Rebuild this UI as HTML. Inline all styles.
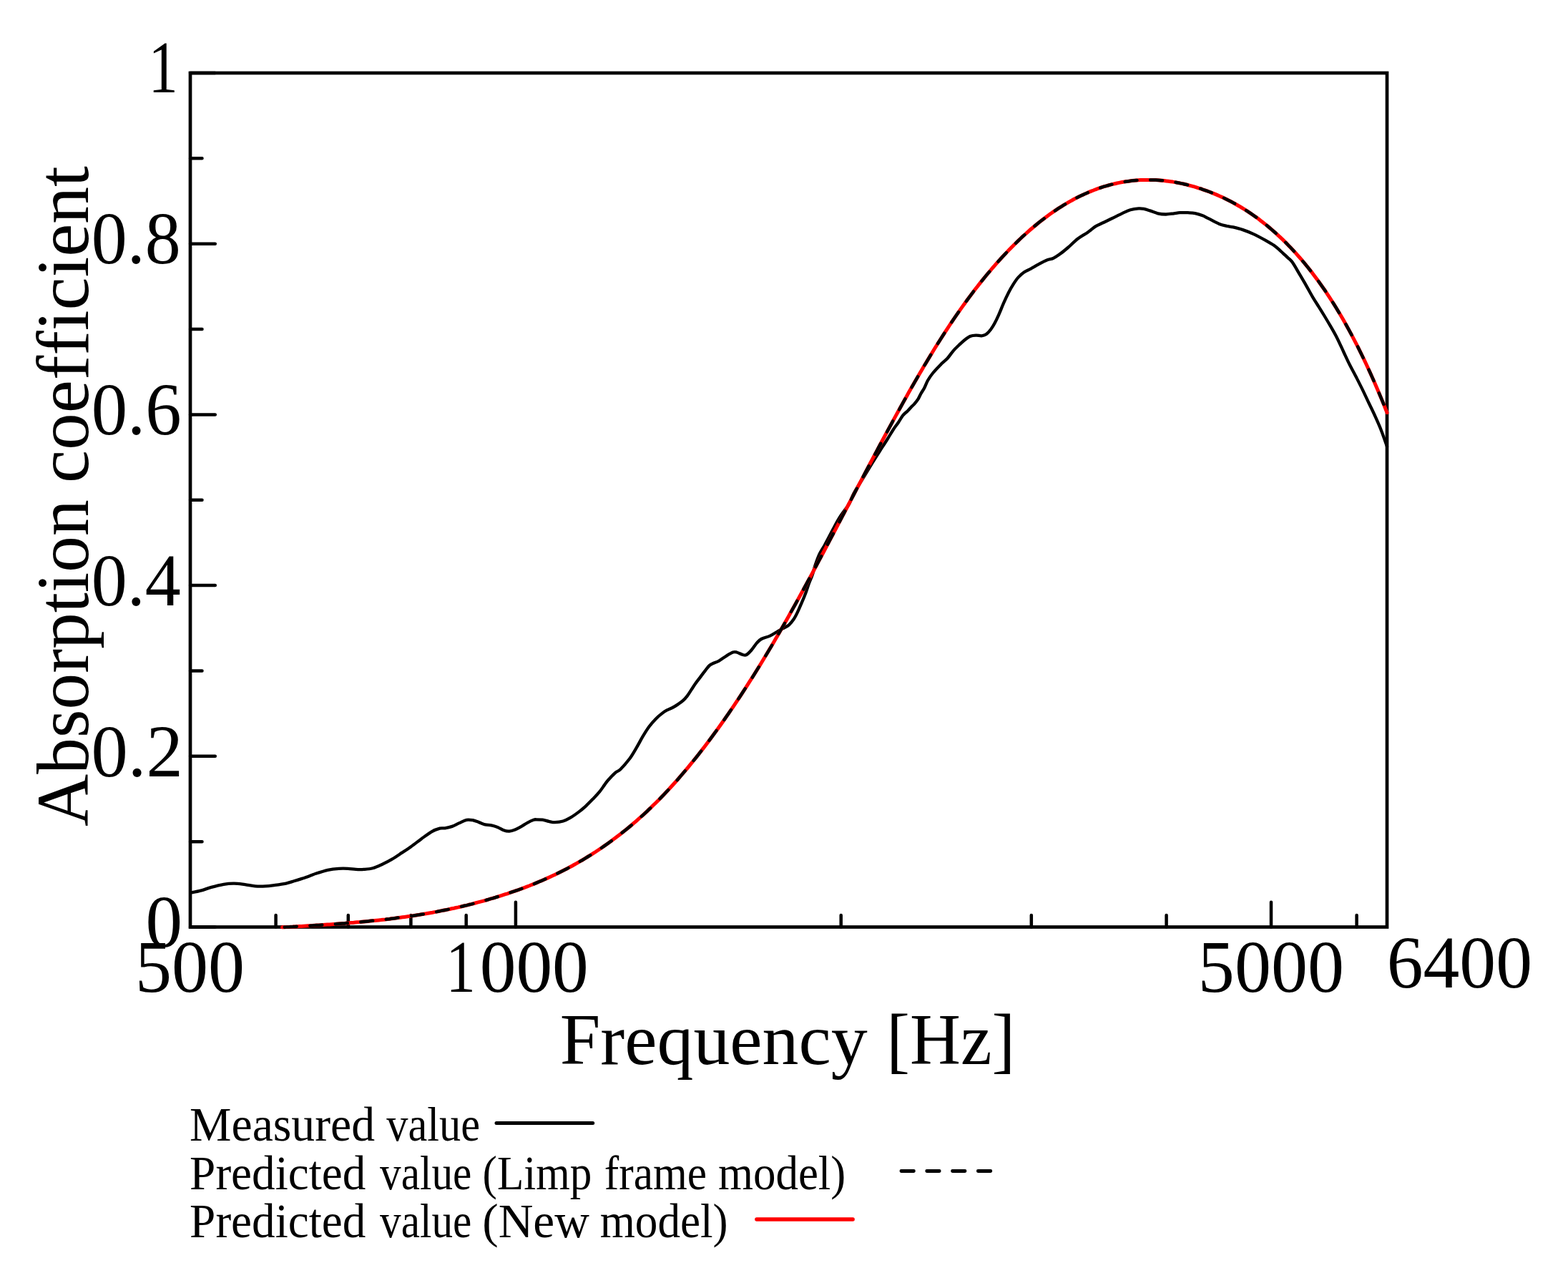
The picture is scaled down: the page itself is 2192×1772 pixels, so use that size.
<!DOCTYPE html>
<html><head><meta charset="utf-8"><style>
html,body{margin:0;padding:0;background:#fff;}
svg{display:block;}
text{font-family:"Liberation Serif","Times New Roman",serif;fill:#000;font-kerning:none;font-variant-ligatures:none;}
</style></head><body>
<svg width="2192" height="1772" viewBox="0 0 2192 1772">
<rect width="2192" height="1772" fill="#fff"/>
<g fill="none" stroke-linejoin="round" stroke-linecap="round">
<path d="M266.0,1295.5 h34.8 M266.0,1176.2 h16.5 M266.0,1056.8 h34.8 M266.0,937.5 h16.5 M266.0,818.1 h34.8 M266.0,698.8 h16.5 M266.0,579.4 h34.8 M266.0,460.1 h16.5 M266.0,340.7 h34.8 M266.0,221.3 h16.5 M266.0,102.0 h34.8 M385.6,1295.5 v-16.5 M486.8,1295.5 v-16.5 M574.4,1295.5 v-16.5 M651.7,1295.5 v-16.5 M1175.7,1295.5 v-16.5 M1441.8,1295.5 v-16.5 M1630.6,1295.5 v-16.5 M1896.6,1295.5 v-16.5 M720.9,1295.5 v-34.8 M1777.0,1295.5 v-34.8" stroke="#000" stroke-width="4.5"/>
<rect x="266" y="102" width="1673" height="1193.5" stroke="#000" stroke-width="4.7" stroke-linecap="butt" stroke-linejoin="miter"/>
<path d="M266.5,1247.7 C268.9,1247.2 275.8,1246.0 280.6,1244.7 C285.4,1243.4 290.1,1241.4 295.5,1239.9 C300.9,1238.4 307.4,1236.7 312.7,1235.8 C318.0,1234.9 322.6,1234.5 327.5,1234.6 C332.4,1234.6 337.5,1235.5 342.4,1236.1 C347.2,1236.7 351.8,1238.0 356.6,1238.4 C361.5,1238.8 366.8,1238.7 371.5,1238.4 C376.2,1238.2 380.2,1237.5 384.9,1236.9 C389.6,1236.3 395.4,1235.5 399.8,1234.6 C404.2,1233.7 407.3,1232.4 411.0,1231.3 C414.7,1230.2 419.2,1228.8 422.0,1227.9 C424.8,1227.0 424.3,1227.3 427.6,1226.1 C430.9,1224.9 436.5,1222.5 441.6,1220.8 C446.7,1219.1 453.0,1217.0 458.3,1215.8 C463.6,1214.6 469.0,1214.1 473.7,1213.8 C478.4,1213.5 482.4,1213.6 486.3,1213.8 C490.2,1214.0 493.7,1214.7 497.4,1214.9 C501.1,1215.1 504.6,1215.2 508.6,1214.9 C512.6,1214.6 516.8,1214.4 521.2,1213.2 C525.6,1212.0 530.7,1209.5 535.1,1207.5 C539.5,1205.5 543.3,1203.5 547.7,1200.9 C552.1,1198.3 557.0,1194.9 561.5,1191.9 C566.0,1189.0 569.9,1186.5 574.5,1183.2 C579.1,1180.0 584.1,1175.9 588.9,1172.4 C593.7,1168.9 599.0,1164.8 603.3,1162.3 C607.6,1159.8 611.7,1158.5 614.8,1157.7 C617.9,1156.9 619.1,1157.8 622.0,1157.3 C624.9,1156.8 628.7,1156.1 632.1,1154.9 C635.5,1153.7 638.8,1151.6 642.2,1150.1 C645.6,1148.6 649.2,1146.4 652.3,1145.8 C655.4,1145.2 658.0,1145.7 660.9,1146.2 C663.8,1146.8 666.6,1148.1 669.5,1149.1 C672.4,1150.1 675.3,1151.6 678.2,1152.3 C681.1,1153.0 683.9,1152.8 686.8,1153.4 C689.7,1154.0 692.6,1154.8 695.5,1155.9 C698.4,1157.0 701.4,1159.2 704.1,1160.2 C706.9,1161.2 709.4,1161.7 712.0,1161.6 C714.6,1161.5 717.2,1160.6 720.0,1159.5 C722.8,1158.4 725.7,1156.7 728.6,1155.1 C731.5,1153.5 734.3,1151.3 737.2,1149.8 C740.1,1148.2 743.8,1146.5 745.9,1145.8 C748.0,1145.0 747.9,1145.3 750.0,1145.3 C752.1,1145.3 755.7,1145.3 758.6,1145.7 C761.5,1146.1 764.4,1147.3 767.3,1147.9 C770.2,1148.5 772.6,1149.3 775.9,1149.2 C779.2,1149.1 783.6,1148.6 787.2,1147.5 C790.8,1146.4 793.9,1144.8 797.5,1142.7 C801.1,1140.6 805.2,1137.6 808.8,1134.9 C812.4,1132.2 815.6,1129.5 819.1,1126.3 C822.6,1123.1 826.3,1119.2 829.5,1115.9 C832.7,1112.6 835.6,1109.6 838.2,1106.4 C840.8,1103.2 843.1,1099.6 845.1,1096.9 C847.1,1094.2 847.8,1092.8 850.3,1090.0 C852.8,1087.2 857.4,1082.3 860.2,1079.8 C863.0,1077.3 863.9,1078.4 867.2,1075.2 C870.5,1072.0 876.2,1065.5 880.0,1060.5 C883.8,1055.5 886.7,1050.1 889.8,1044.9 C892.9,1039.7 895.7,1034.1 898.6,1029.2 C901.5,1024.3 904.3,1019.7 907.4,1015.5 C910.5,1011.3 914.3,1007.2 917.2,1004.2 C920.1,1001.2 922.5,999.3 925.0,997.4 C927.5,995.5 929.4,994.1 931.9,992.7 C934.4,991.3 937.3,990.4 940.0,989.0 C942.7,987.6 945.5,985.8 948.0,984.1 C950.5,982.4 952.9,980.8 955.0,978.9 C957.1,977.0 958.8,975.1 960.7,972.6 C962.6,970.1 964.6,966.8 966.5,963.9 C968.4,961.0 970.1,958.3 972.2,955.3 C974.3,952.3 976.8,949.2 979.1,946.1 C981.4,943.0 984.0,939.6 986.1,936.9 C988.2,934.2 989.8,931.7 991.8,930.0 C993.8,928.3 996.0,927.6 998.2,926.5 C1000.4,925.4 1002.0,925.3 1005.0,923.6 C1008.0,921.9 1012.6,918.3 1015.9,916.3 C1019.2,914.3 1022.3,912.3 1024.6,911.5 C1026.9,910.7 1027.5,910.9 1029.8,911.5 C1032.1,912.1 1036.1,914.4 1038.4,915.0 C1040.7,915.6 1041.6,916.1 1043.6,915.0 C1045.6,913.9 1048.0,911.3 1050.5,908.5 C1053.0,905.7 1056.0,900.8 1058.3,898.2 C1060.6,895.6 1061.3,894.6 1064.3,893.0 C1067.3,891.4 1072.5,890.4 1076.4,888.6 C1080.3,886.8 1084.6,883.7 1087.6,882.0 C1090.6,880.3 1092.0,879.7 1094.6,878.2 C1097.1,876.8 1100.4,875.5 1102.9,873.3 C1105.4,871.1 1107.7,868.1 1109.8,865.0 C1111.9,861.9 1113.5,858.5 1115.3,854.7 C1117.1,850.9 1118.9,846.6 1120.8,842.2 C1122.7,837.8 1124.7,833.0 1126.4,828.4 C1128.1,823.8 1129.6,818.8 1131.2,814.6 C1132.8,810.4 1134.4,807.1 1135.8,803.0 C1137.2,798.9 1138.0,794.8 1139.6,790.0 C1141.2,785.2 1143.3,779.1 1145.5,774.4 C1147.7,769.6 1149.9,767.2 1153.0,761.5 C1156.1,755.8 1160.9,746.5 1164.2,740.3 C1167.5,734.1 1170.2,728.9 1173.1,724.2 C1175.9,719.5 1178.9,715.7 1181.3,712.3 C1183.7,708.9 1185.1,707.9 1187.2,704.0 C1189.3,700.1 1190.7,694.8 1193.9,688.8 C1197.1,682.8 1202.5,674.9 1206.6,668.2 C1210.7,661.5 1214.5,655.0 1218.4,648.6 C1222.3,642.2 1226.3,635.9 1230.1,630.0 C1233.9,624.1 1237.9,618.0 1241.0,613.0 C1244.1,608.0 1246.5,603.8 1249.0,600.0 C1251.4,596.2 1253.6,593.8 1255.8,590.5 C1258.0,587.2 1260.1,583.1 1262.3,580.4 C1264.5,577.7 1266.7,576.4 1268.7,574.4 C1270.7,572.4 1272.8,570.0 1274.4,568.3 C1276.0,566.6 1276.9,566.0 1278.4,564.3 C1279.9,562.6 1281.7,560.6 1283.2,558.2 C1284.7,555.9 1285.8,552.9 1287.3,550.2 C1288.8,547.5 1290.7,545.0 1292.3,541.9 C1293.9,538.8 1295.1,535.0 1297.1,531.5 C1299.1,528.0 1301.2,524.9 1304.4,521.0 C1307.6,517.1 1313.2,511.5 1316.5,508.1 C1319.8,504.7 1321.8,503.8 1324.5,500.8 C1327.2,497.8 1329.9,493.4 1332.6,490.3 C1335.3,487.2 1337.9,484.9 1340.6,482.3 C1343.3,479.8 1346.0,477.1 1348.7,475.0 C1351.4,472.9 1354.1,470.9 1356.8,469.8 C1359.5,468.7 1362.2,468.7 1364.8,468.6 C1367.3,468.5 1369.8,469.5 1372.1,469.3 C1374.4,469.1 1376.3,468.8 1378.5,467.3 C1380.7,465.8 1383.0,463.1 1385.0,460.5 C1387.0,457.9 1388.8,455.0 1390.6,451.6 C1392.4,448.2 1394.0,444.8 1396.1,440.1 C1398.2,435.5 1400.7,428.9 1403.0,423.7 C1405.3,418.5 1407.6,413.5 1409.9,409.0 C1412.2,404.5 1414.5,400.5 1416.8,396.9 C1419.1,393.3 1421.2,390.1 1423.7,387.4 C1426.2,384.7 1428.6,382.5 1431.5,380.5 C1434.4,378.5 1437.7,377.4 1441.0,375.6 C1444.3,373.8 1447.7,371.7 1451.4,369.7 C1455.1,367.7 1459.9,364.8 1463.4,363.4 C1466.9,361.9 1469.5,362.2 1472.3,361.0 C1475.1,359.8 1476.9,358.5 1480.3,356.1 C1483.7,353.7 1488.0,350.3 1492.4,346.5 C1496.8,342.7 1502.2,337.1 1506.9,333.5 C1511.6,329.9 1516.6,327.5 1520.6,324.7 C1524.6,321.9 1527.7,318.8 1531.1,316.6 C1534.5,314.5 1536.9,313.7 1540.8,311.8 C1544.7,309.9 1549.8,307.6 1554.5,305.3 C1559.2,303.0 1564.7,300.1 1569.0,298.1 C1573.3,296.1 1576.5,294.3 1580.3,293.2 C1584.1,292.1 1588.7,291.6 1591.8,291.4 C1594.9,291.2 1596.5,291.4 1599.1,291.9 C1601.7,292.4 1604.2,293.3 1607.5,294.4 C1610.8,295.5 1615.0,297.4 1618.7,298.3 C1622.4,299.2 1626.1,299.5 1629.8,299.5 C1633.5,299.5 1637.7,298.7 1641.0,298.3 C1644.3,297.9 1646.1,297.4 1649.4,297.2 C1652.7,297.0 1657.1,297.0 1660.6,297.2 C1664.1,297.4 1667.2,297.4 1670.6,298.1 C1674.0,298.8 1678.0,300.1 1681.2,301.3 C1684.4,302.5 1685.6,303.5 1689.5,305.4 C1693.4,307.3 1700.2,311.1 1704.4,312.9 C1708.6,314.6 1711.7,315.1 1714.9,315.9 C1718.2,316.6 1720.2,316.5 1723.9,317.4 C1727.7,318.3 1732.7,319.5 1737.4,321.1 C1742.2,322.7 1747.0,324.6 1752.4,327.1 C1757.8,329.6 1764.9,333.5 1769.6,336.1 C1774.3,338.7 1777.4,340.4 1780.8,342.8 C1784.2,345.2 1786.5,347.4 1789.8,350.3 C1793.0,353.2 1797.4,357.4 1800.3,360.1 C1803.2,362.9 1804.1,362.8 1806.9,366.8 C1809.7,370.8 1814.1,378.8 1817.3,384.1 C1820.5,389.4 1823.0,393.8 1825.9,398.8 C1828.8,403.8 1831.7,409.4 1834.6,414.3 C1837.5,419.2 1840.3,423.5 1843.2,428.1 C1846.1,432.7 1848.9,437.2 1851.8,442.0 C1854.7,446.8 1857.6,451.7 1860.5,456.7 C1863.4,461.7 1866.1,466.3 1869.1,472.2 C1872.1,478.1 1875.5,485.8 1878.4,492.0 C1881.3,498.2 1883.9,504.0 1886.7,509.5 C1889.5,515.0 1892.1,519.5 1895.0,525.2 C1897.9,530.9 1901.2,537.3 1904.3,543.6 C1907.4,549.9 1910.4,556.5 1913.5,563.0 C1916.6,569.5 1919.8,575.9 1922.7,582.4 C1925.6,588.9 1928.3,594.8 1931.0,601.7 C1933.7,608.6 1937.7,620.3 1939.0,624.0" stroke="#000" stroke-width="4.3"/>
<path d="M394.5,1295.8 L397.5,1295.7 L400.5,1295.6 L403.5,1295.4 L406.5,1295.2 L409.5,1295.1 L412.5,1294.9 L415.5,1294.7 L418.5,1294.5 L421.5,1294.4 L424.5,1294.2 L427.5,1294.0 L430.5,1293.8 L433.5,1293.7 L436.5,1293.5 L439.5,1293.3 L442.5,1293.1 L445.5,1292.9 L448.5,1292.7 L451.5,1292.5 L454.5,1292.3 L457.5,1292.1 L460.5,1291.9 L463.5,1291.7 L466.5,1291.5 L469.5,1291.3 L472.5,1291.0 L475.5,1290.8 L478.5,1290.6 L481.5,1290.4 L484.5,1290.1 L487.5,1289.9 L490.5,1289.6 L493.5,1289.4 L496.5,1289.1 L499.5,1288.8 L502.5,1288.6 L505.5,1288.3 L508.5,1288.0 L511.5,1287.7 L514.5,1287.4 L517.5,1287.1 L520.5,1286.8 L523.5,1286.5 L526.5,1286.2 L529.5,1285.9 L532.5,1285.6 L535.5,1285.2 L538.5,1284.9 L541.5,1284.5 L544.5,1284.2 L547.5,1283.8 L550.5,1283.4 L553.5,1283.0 L556.5,1282.6 L559.5,1282.2 L562.5,1281.8 L565.5,1281.4 L568.5,1281.0 L571.5,1280.6 L574.5,1280.1 L577.5,1279.7 L580.5,1279.2 L583.5,1278.7 L586.5,1278.3 L589.5,1277.8 L592.5,1277.3 L595.5,1276.8 L598.5,1276.2 L601.5,1275.7 L604.5,1275.2 L607.5,1274.6 L610.5,1274.1 L613.5,1273.5 L616.5,1272.9 L619.5,1272.3 L622.5,1271.7 L625.5,1271.1 L628.5,1270.5 L631.5,1269.8 L634.5,1269.2 L637.5,1268.5 L640.5,1267.9 L643.5,1267.2 L646.5,1266.5 L649.5,1265.8 L652.5,1265.1 L655.5,1264.3 L658.5,1263.6 L661.5,1262.8 L664.5,1262.0 L667.5,1261.2 L670.5,1260.4 L673.5,1259.6 L676.5,1258.8 L679.5,1258.0 L682.5,1257.1 L685.5,1256.2 L688.5,1255.4 L691.5,1254.5 L694.5,1253.5 L697.5,1252.6 L700.5,1251.7 L703.5,1250.7 L706.5,1249.7 L709.5,1248.8 L712.5,1247.7 L715.5,1246.7 L718.5,1245.7 L721.5,1244.6 L724.5,1243.6 L727.5,1242.5 L730.5,1241.4 L733.5,1240.3 L736.5,1239.1 L739.5,1238.0 L742.5,1236.8 L745.5,1235.6 L748.5,1234.4 L751.5,1233.1 L754.5,1231.8 L757.5,1230.6 L760.5,1229.3 L763.5,1227.9 L766.5,1226.6 L769.5,1225.2 L772.5,1223.8 L775.5,1222.4 L778.5,1221.0 L781.5,1219.5 L784.5,1218.0 L787.5,1216.5 L790.5,1214.9 L793.5,1213.4 L796.5,1211.8 L799.5,1210.2 L802.5,1208.5 L805.5,1206.8 L808.5,1205.1 L811.5,1203.4 L814.5,1201.7 L817.5,1199.9 L820.5,1198.0 L823.5,1196.2 L826.5,1194.3 L829.5,1192.4 L832.5,1190.5 L835.5,1188.5 L838.5,1186.5 L841.5,1184.5 L844.5,1182.4 L847.5,1180.3 L850.5,1178.2 L853.5,1176.0 L856.5,1173.8 L859.5,1171.6 L862.5,1169.3 L865.5,1167.0 L868.5,1164.7 L871.5,1162.3 L874.5,1159.9 L877.5,1157.5 L880.5,1155.0 L883.5,1152.5 L886.5,1149.9 L889.5,1147.3 L892.5,1144.7 L895.5,1142.0 L898.5,1139.3 L901.5,1136.6 L904.5,1133.8 L907.5,1130.9 L910.5,1128.1 L913.5,1125.1 L916.5,1122.2 L919.5,1119.2 L922.5,1116.2 L925.5,1113.1 L928.5,1110.0 L931.5,1106.8 L934.5,1103.6 L937.5,1100.3 L940.5,1097.0 L943.5,1093.7 L946.5,1090.3 L949.5,1086.9 L952.5,1083.4 L955.5,1079.9 L958.5,1076.4 L961.5,1072.8 L964.5,1069.2 L967.5,1065.5 L970.5,1061.8 L973.5,1058.1 L976.5,1054.3 L979.5,1050.4 L982.5,1046.6 L985.5,1042.7 L988.5,1038.7 L991.5,1034.7 L994.5,1030.7 L997.5,1026.6 L1000.5,1022.5 L1003.5,1018.4 L1006.5,1014.2 L1009.5,1010.0 L1012.5,1005.7 L1015.5,1001.4 L1018.5,997.1 L1021.5,992.7 L1024.5,988.3 L1027.5,983.9 L1030.5,979.4 L1033.5,974.9 L1036.5,970.3 L1039.5,965.7 L1042.5,961.1 L1045.5,956.4 L1048.5,951.7 L1051.5,947.0 L1054.5,942.2 L1057.5,937.4 L1060.5,932.6 L1063.5,927.7 L1066.5,922.8 L1069.5,917.8 L1072.5,912.8 L1075.5,907.8 L1078.5,902.8 L1081.5,897.7 L1084.5,892.6 L1087.5,887.4 L1090.5,882.2 L1093.5,877.0 L1096.5,871.8 L1099.5,866.5 L1102.5,861.2 L1105.5,855.8 L1108.5,850.4 L1111.5,845.1 L1114.5,839.6 L1117.5,834.2 L1120.5,828.7 L1123.5,823.2 L1126.5,817.7 L1129.5,812.2 L1132.5,806.6 L1135.5,801.1 L1138.5,795.5 L1141.5,789.9 L1144.5,784.2 L1147.5,778.6 L1150.5,773.0 L1153.5,767.3 L1156.5,761.6 L1159.5,755.9 L1162.5,750.3 L1165.5,744.6 L1168.5,738.9 L1171.5,733.1 L1174.5,727.4 L1177.5,721.7 L1180.5,716.0 L1183.5,710.3 L1186.5,704.5 L1189.5,698.8 L1192.5,693.1 L1195.5,687.4 L1198.5,681.7 L1201.5,676.0 L1204.5,670.3 L1207.5,664.6 L1210.5,658.9 L1213.5,653.2 L1216.5,647.5 L1219.5,641.8 L1222.5,636.2 L1225.5,630.6 L1228.5,624.9 L1231.5,619.3 L1234.5,613.7 L1237.5,608.2 L1240.5,602.6 L1243.5,597.1 L1246.5,591.6 L1249.5,586.1 L1252.5,580.6 L1255.5,575.2 L1258.5,569.8 L1261.5,564.4 L1264.5,559.0 L1267.5,553.7 L1270.5,548.3 L1273.5,543.1 L1276.5,537.8 L1279.5,532.6 L1282.5,527.4 L1285.5,522.3 L1288.5,517.2 L1291.5,512.1 L1294.5,507.1 L1297.5,502.1 L1300.5,497.1 L1303.5,492.2 L1306.5,487.3 L1309.5,482.5 L1312.5,477.7 L1315.5,473.0 L1318.5,468.3 L1321.5,463.7 L1324.5,459.1 L1327.5,454.5 L1330.5,450.0 L1333.5,445.6 L1336.5,441.2 L1339.5,436.9 L1342.5,432.6 L1345.5,428.4 L1348.5,424.2 L1351.5,420.1 L1354.5,416.0 L1357.5,412.0 L1360.5,408.0 L1363.5,404.1 L1366.5,400.2 L1369.5,396.4 L1372.5,392.6 L1375.5,388.9 L1378.5,385.2 L1381.5,381.6 L1384.5,378.1 L1387.5,374.5 L1390.5,371.1 L1393.5,367.7 L1396.5,364.3 L1399.5,361.0 L1402.5,357.8 L1405.5,354.6 L1408.5,351.4 L1411.5,348.3 L1414.5,345.2 L1417.5,342.2 L1420.5,339.3 L1423.5,336.4 L1426.5,333.5 L1429.5,330.7 L1432.5,328.0 L1435.5,325.3 L1438.5,322.6 L1441.5,320.0 L1444.5,317.5 L1447.5,315.0 L1450.5,312.5 L1453.5,310.1 L1456.5,307.8 L1459.5,305.5 L1462.5,303.2 L1465.5,301.0 L1468.5,298.8 L1471.5,296.7 L1474.5,294.7 L1477.5,292.7 L1480.5,290.7 L1483.5,288.8 L1486.5,286.9 L1489.5,285.1 L1492.5,283.4 L1495.5,281.6 L1498.5,280.0 L1501.5,278.3 L1504.5,276.8 L1507.5,275.3 L1510.5,273.8 L1513.5,272.4 L1516.5,271.0 L1519.5,269.7 L1522.5,268.4 L1525.5,267.1 L1528.5,266.0 L1531.5,264.8 L1534.5,263.7 L1537.5,262.7 L1540.5,261.7 L1543.5,260.7 L1546.5,259.8 L1549.5,259.0 L1552.5,258.2 L1555.5,257.4 L1558.5,256.7 L1561.5,256.0 L1564.5,255.4 L1567.5,254.8 L1570.5,254.3 L1573.5,253.8 L1576.5,253.4 L1579.5,253.0 L1582.5,252.6 L1585.5,252.3 L1588.5,252.0 L1591.5,251.8 L1594.5,251.6 L1597.5,251.5 L1600.5,251.4 L1603.5,251.4 L1606.5,251.4 L1609.5,251.4 L1612.5,251.5 L1615.5,251.6 L1618.5,251.8 L1621.5,252.0 L1624.5,252.2 L1627.5,252.5 L1630.5,252.9 L1633.5,253.3 L1636.5,253.7 L1639.5,254.1 L1642.5,254.6 L1645.5,255.2 L1648.5,255.8 L1651.5,256.4 L1654.5,257.0 L1657.5,257.7 L1660.5,258.5 L1663.5,259.3 L1666.5,260.1 L1669.5,260.9 L1672.5,261.8 L1675.5,262.8 L1678.5,263.7 L1681.5,264.8 L1684.5,265.8 L1687.5,266.9 L1690.5,268.0 L1693.5,269.2 L1696.5,270.4 L1699.5,271.6 L1702.5,272.9 L1705.5,274.3 L1708.5,275.6 L1711.5,277.0 L1714.5,278.5 L1717.5,280.0 L1720.5,281.5 L1723.5,283.1 L1726.5,284.8 L1729.5,286.5 L1732.5,288.2 L1735.5,290.0 L1738.5,291.8 L1741.5,293.7 L1744.5,295.6 L1747.5,297.6 L1750.5,299.7 L1753.5,301.8 L1756.5,303.9 L1759.5,306.1 L1762.5,308.4 L1765.5,310.7 L1768.5,313.1 L1771.5,315.5 L1774.5,318.0 L1777.5,320.6 L1780.5,323.2 L1783.5,325.8 L1786.5,328.6 L1789.5,331.4 L1792.5,334.2 L1795.5,337.1 L1798.5,340.1 L1801.5,343.2 L1804.5,346.3 L1807.5,349.5 L1810.5,352.7 L1813.5,356.1 L1816.5,359.5 L1819.5,362.9 L1822.5,366.5 L1825.5,370.1 L1828.5,373.8 L1831.5,377.6 L1834.5,381.4 L1837.5,385.4 L1840.5,389.4 L1843.5,393.5 L1846.5,397.7 L1849.5,402.0 L1852.5,406.3 L1855.5,410.8 L1858.5,415.3 L1861.5,420.0 L1864.5,424.7 L1867.5,429.5 L1870.5,434.5 L1873.5,439.5 L1876.5,444.6 L1879.5,449.8 L1882.5,455.2 L1885.5,460.6 L1888.5,466.1 L1891.5,471.8 L1894.5,477.6 L1897.5,483.4 L1900.5,489.4 L1903.5,495.5 L1906.5,501.7 L1909.5,508.0 L1912.5,514.5 L1915.5,521.0 L1918.5,527.7 L1921.5,534.5 L1924.5,541.4 L1927.5,548.5 L1930.5,555.6 L1933.5,562.9 L1936.5,570.4 L1939.0,576.6" stroke="#ff0000" stroke-width="5"/>
<path d="M394.5,1295.8 L397.5,1295.7 L400.5,1295.6 L403.5,1295.4 L406.5,1295.2 L409.5,1295.1 L412.5,1294.9 L415.5,1294.7 L418.5,1294.5 L421.5,1294.4 L424.5,1294.2 L427.5,1294.0 L430.5,1293.8 L433.5,1293.7 L436.5,1293.5 L439.5,1293.3 L442.5,1293.1 L445.5,1292.9 L448.5,1292.7 L451.5,1292.5 L454.5,1292.3 L457.5,1292.1 L460.5,1291.9 L463.5,1291.7 L466.5,1291.5 L469.5,1291.3 L472.5,1291.0 L475.5,1290.8 L478.5,1290.6 L481.5,1290.4 L484.5,1290.1 L487.5,1289.9 L490.5,1289.6 L493.5,1289.4 L496.5,1289.1 L499.5,1288.8 L502.5,1288.6 L505.5,1288.3 L508.5,1288.0 L511.5,1287.7 L514.5,1287.4 L517.5,1287.1 L520.5,1286.8 L523.5,1286.5 L526.5,1286.2 L529.5,1285.9 L532.5,1285.6 L535.5,1285.2 L538.5,1284.9 L541.5,1284.5 L544.5,1284.2 L547.5,1283.8 L550.5,1283.4 L553.5,1283.0 L556.5,1282.6 L559.5,1282.2 L562.5,1281.8 L565.5,1281.4 L568.5,1281.0 L571.5,1280.6 L574.5,1280.1 L577.5,1279.7 L580.5,1279.2 L583.5,1278.7 L586.5,1278.3 L589.5,1277.8 L592.5,1277.3 L595.5,1276.8 L598.5,1276.2 L601.5,1275.7 L604.5,1275.2 L607.5,1274.6 L610.5,1274.1 L613.5,1273.5 L616.5,1272.9 L619.5,1272.3 L622.5,1271.7 L625.5,1271.1 L628.5,1270.5 L631.5,1269.8 L634.5,1269.2 L637.5,1268.5 L640.5,1267.9 L643.5,1267.2 L646.5,1266.5 L649.5,1265.8 L652.5,1265.1 L655.5,1264.3 L658.5,1263.6 L661.5,1262.8 L664.5,1262.0 L667.5,1261.2 L670.5,1260.4 L673.5,1259.6 L676.5,1258.8 L679.5,1258.0 L682.5,1257.1 L685.5,1256.2 L688.5,1255.4 L691.5,1254.5 L694.5,1253.5 L697.5,1252.6 L700.5,1251.7 L703.5,1250.7 L706.5,1249.7 L709.5,1248.8 L712.5,1247.7 L715.5,1246.7 L718.5,1245.7 L721.5,1244.6 L724.5,1243.6 L727.5,1242.5 L730.5,1241.4 L733.5,1240.3 L736.5,1239.1 L739.5,1238.0 L742.5,1236.8 L745.5,1235.6 L748.5,1234.4 L751.5,1233.1 L754.5,1231.8 L757.5,1230.6 L760.5,1229.3 L763.5,1227.9 L766.5,1226.6 L769.5,1225.2 L772.5,1223.8 L775.5,1222.4 L778.5,1221.0 L781.5,1219.5 L784.5,1218.0 L787.5,1216.5 L790.5,1214.9 L793.5,1213.4 L796.5,1211.8 L799.5,1210.2 L802.5,1208.5 L805.5,1206.8 L808.5,1205.1 L811.5,1203.4 L814.5,1201.7 L817.5,1199.9 L820.5,1198.0 L823.5,1196.2 L826.5,1194.3 L829.5,1192.4 L832.5,1190.5 L835.5,1188.5 L838.5,1186.5 L841.5,1184.5 L844.5,1182.4 L847.5,1180.3 L850.5,1178.2 L853.5,1176.0 L856.5,1173.8 L859.5,1171.6 L862.5,1169.3 L865.5,1167.0 L868.5,1164.7 L871.5,1162.3 L874.5,1159.9 L877.5,1157.5 L880.5,1155.0 L883.5,1152.5 L886.5,1149.9 L889.5,1147.3 L892.5,1144.7 L895.5,1142.0 L898.5,1139.3 L901.5,1136.6 L904.5,1133.8 L907.5,1130.9 L910.5,1128.1 L913.5,1125.1 L916.5,1122.2 L919.5,1119.2 L922.5,1116.2 L925.5,1113.1 L928.5,1110.0 L931.5,1106.8 L934.5,1103.6 L937.5,1100.3 L940.5,1097.0 L943.5,1093.7 L946.5,1090.3 L949.5,1086.9 L952.5,1083.4 L955.5,1079.9 L958.5,1076.4 L961.5,1072.8 L964.5,1069.2 L967.5,1065.5 L970.5,1061.8 L973.5,1058.1 L976.5,1054.3 L979.5,1050.4 L982.5,1046.6 L985.5,1042.7 L988.5,1038.7 L991.5,1034.7 L994.5,1030.7 L997.5,1026.6 L1000.5,1022.5 L1003.5,1018.4 L1006.5,1014.2 L1009.5,1010.0 L1012.5,1005.7 L1015.5,1001.4 L1018.5,997.1 L1021.5,992.7 L1024.5,988.3 L1027.5,983.9 L1030.5,979.4 L1033.5,974.9 L1036.5,970.3 L1039.5,965.7 L1042.5,961.1 L1045.5,956.4 L1048.5,951.7 L1051.5,947.0 L1054.5,942.2 L1057.5,937.4 L1060.5,932.6 L1063.5,927.7 L1066.5,922.8 L1069.5,917.8 L1072.5,912.8 L1075.5,907.8 L1078.5,902.8 L1081.5,897.7 L1084.5,892.6 L1087.5,887.4 L1090.5,882.2 L1093.5,877.0 L1096.5,871.8 L1099.5,866.5 L1102.5,861.2 L1105.5,855.8 L1108.5,850.4 L1111.5,845.1 L1114.5,839.6 L1117.5,834.2 L1120.5,828.7 L1123.5,823.2 L1126.5,817.7 L1129.5,812.2 L1132.5,806.6 L1135.5,801.1 L1138.5,795.5 L1141.5,789.9 L1144.5,784.2 L1147.5,778.6 L1150.5,773.0 L1153.5,767.3 L1156.5,761.6 L1159.5,755.9 L1162.5,750.3 L1165.5,744.6 L1168.5,738.9 L1171.5,733.1 L1174.5,727.4 L1177.5,721.7 L1180.5,716.0 L1183.5,710.3 L1186.5,704.5 L1189.5,698.8 L1192.5,693.1 L1195.5,687.4 L1198.5,681.7 L1201.5,676.0 L1204.5,670.3 L1207.5,664.6 L1210.5,658.9 L1213.5,653.2 L1216.5,647.5 L1219.5,641.8 L1222.5,636.2 L1225.5,630.6 L1228.5,624.9 L1231.5,619.3 L1234.5,613.7 L1237.5,608.2 L1240.5,602.6 L1243.5,597.1 L1246.5,591.6 L1249.5,586.1 L1252.5,580.6 L1255.5,575.2 L1258.5,569.8 L1261.5,564.4 L1264.5,559.0 L1267.5,553.7 L1270.5,548.3 L1273.5,543.1 L1276.5,537.8 L1279.5,532.6 L1282.5,527.4 L1285.5,522.3 L1288.5,517.2 L1291.5,512.1 L1294.5,507.1 L1297.5,502.1 L1300.5,497.1 L1303.5,492.2 L1306.5,487.3 L1309.5,482.5 L1312.5,477.7 L1315.5,473.0 L1318.5,468.3 L1321.5,463.7 L1324.5,459.1 L1327.5,454.5 L1330.5,450.0 L1333.5,445.6 L1336.5,441.2 L1339.5,436.9 L1342.5,432.6 L1345.5,428.4 L1348.5,424.2 L1351.5,420.1 L1354.5,416.0 L1357.5,412.0 L1360.5,408.0 L1363.5,404.1 L1366.5,400.2 L1369.5,396.4 L1372.5,392.6 L1375.5,388.9 L1378.5,385.2 L1381.5,381.6 L1384.5,378.1 L1387.5,374.5 L1390.5,371.1 L1393.5,367.7 L1396.5,364.3 L1399.5,361.0 L1402.5,357.8 L1405.5,354.6 L1408.5,351.4 L1411.5,348.3 L1414.5,345.2 L1417.5,342.2 L1420.5,339.3 L1423.5,336.4 L1426.5,333.5 L1429.5,330.7 L1432.5,328.0 L1435.5,325.3 L1438.5,322.6 L1441.5,320.0 L1444.5,317.5 L1447.5,315.0 L1450.5,312.5 L1453.5,310.1 L1456.5,307.8 L1459.5,305.5 L1462.5,303.2 L1465.5,301.0 L1468.5,298.8 L1471.5,296.7 L1474.5,294.7 L1477.5,292.7 L1480.5,290.7 L1483.5,288.8 L1486.5,286.9 L1489.5,285.1 L1492.5,283.4 L1495.5,281.6 L1498.5,280.0 L1501.5,278.3 L1504.5,276.8 L1507.5,275.3 L1510.5,273.8 L1513.5,272.4 L1516.5,271.0 L1519.5,269.7 L1522.5,268.4 L1525.5,267.1 L1528.5,266.0 L1531.5,264.8 L1534.5,263.7 L1537.5,262.7 L1540.5,261.7 L1543.5,260.7 L1546.5,259.8 L1549.5,259.0 L1552.5,258.2 L1555.5,257.4 L1558.5,256.7 L1561.5,256.0 L1564.5,255.4 L1567.5,254.8 L1570.5,254.3 L1573.5,253.8 L1576.5,253.4 L1579.5,253.0 L1582.5,252.6 L1585.5,252.3 L1588.5,252.0 L1591.5,251.8 L1594.5,251.6 L1597.5,251.5 L1600.5,251.4 L1603.5,251.4 L1606.5,251.4 L1609.5,251.4 L1612.5,251.5 L1615.5,251.6 L1618.5,251.8 L1621.5,252.0 L1624.5,252.2 L1627.5,252.5 L1630.5,252.9 L1633.5,253.3 L1636.5,253.7 L1639.5,254.1 L1642.5,254.6 L1645.5,255.2 L1648.5,255.8 L1651.5,256.4 L1654.5,257.0 L1657.5,257.7 L1660.5,258.5 L1663.5,259.3 L1666.5,260.1 L1669.5,260.9 L1672.5,261.8 L1675.5,262.8 L1678.5,263.7 L1681.5,264.8 L1684.5,265.8 L1687.5,266.9 L1690.5,268.0 L1693.5,269.2 L1696.5,270.4 L1699.5,271.6 L1702.5,272.9 L1705.5,274.3 L1708.5,275.6 L1711.5,277.0 L1714.5,278.5 L1717.5,280.0 L1720.5,281.5 L1723.5,283.1 L1726.5,284.8 L1729.5,286.5 L1732.5,288.2 L1735.5,290.0 L1738.5,291.8 L1741.5,293.7 L1744.5,295.6 L1747.5,297.6 L1750.5,299.7 L1753.5,301.8 L1756.5,303.9 L1759.5,306.1 L1762.5,308.4 L1765.5,310.7 L1768.5,313.1 L1771.5,315.5 L1774.5,318.0 L1777.5,320.6 L1780.5,323.2 L1783.5,325.8 L1786.5,328.6 L1789.5,331.4 L1792.5,334.2 L1795.5,337.1 L1798.5,340.1 L1801.5,343.2 L1804.5,346.3 L1807.5,349.5 L1810.5,352.7 L1813.5,356.1 L1816.5,359.5 L1819.5,362.9 L1822.5,366.5 L1825.5,370.1 L1828.5,373.8 L1831.5,377.6 L1834.5,381.4 L1837.5,385.4 L1840.5,389.4 L1843.5,393.5 L1846.5,397.7 L1849.5,402.0 L1852.5,406.3 L1855.5,410.8 L1858.5,415.3 L1861.5,420.0 L1864.5,424.7 L1867.5,429.5 L1870.5,434.5 L1873.5,439.5 L1876.5,444.6 L1879.5,449.8 L1882.5,455.2 L1885.5,460.6 L1888.5,466.1 L1891.5,471.8 L1894.5,477.6 L1897.5,483.4 L1900.5,489.4 L1903.5,495.5 L1906.5,501.7 L1909.5,508.0 L1912.5,514.5 L1915.5,521.0 L1918.5,527.7 L1921.5,534.5 L1924.5,541.4 L1927.5,548.5 L1930.5,555.6 L1933.5,562.9 L1936.5,570.4 L1939.0,576.6" stroke="#000" stroke-width="4.5" stroke-dasharray="17 18.6" stroke-dashoffset="-3.3"/>
</g>
<text transform="translate(207.55,128.60) scale(0.8000,1)" font-size="103">1</text>
<text transform="translate(127.69,368.00) scale(0.9702,1)" font-size="103">0.8</text>
<text transform="translate(127.66,607.00) scale(0.9782,1)" font-size="103">0.6</text>
<text transform="translate(127.69,846.00) scale(0.9706,1)" font-size="103">0.4</text>
<text transform="translate(127.60,1085.00) scale(0.9954,1)" font-size="103">0.2</text>
<text transform="translate(203.47,1323.00) scale(1.0010,1)" font-size="103">0</text>
<text transform="translate(188.97,1386.00) scale(0.9911,1)" font-size="103">500</text>
<text transform="translate(623.45,1386.00) scale(0.8000,1)" font-size="103">1</text>
<text transform="translate(670.74,1386.00) scale(0.9839,1)" font-size="103">000</text>
<text transform="translate(1674.87,1386.00) scale(0.9909,1)" font-size="103">5000</text>
<text transform="translate(1938.73,1380.00) scale(0.9866,1)" font-size="103">6400</text>
<text transform="translate(782.66,1487.30) scale(0.9989,1)" font-size="102">Frequency</text>
<text transform="translate(1239.31,1487.30) scale(0.9626,1)" font-size="102">[Hz]</text>
<text transform="translate(122.80,1154.99) rotate(-90) scale(0.9854,1)" font-size="103">Absorption</text>
<text transform="translate(122.80,674.95) rotate(-90) scale(1.0058,1)" font-size="103">coefficient</text>
<text transform="translate(265.11,1593.70) scale(0.9731,1)" font-size="67.5">Measured</text>
<text transform="translate(540.30,1593.70) scale(0.8948,1)" font-size="67.5">value</text>
<text transform="translate(265.12,1662.00) scale(0.9661,1)" font-size="67.5">Predicted</text>
<text transform="translate(531.10,1662.00) scale(0.8767,1)" font-size="67.5">value</text>
<text transform="translate(265.12,1729.00) scale(0.9661,1)" font-size="67.5">Predicted</text>
<text transform="translate(531.10,1729.00) scale(0.8767,1)" font-size="67.5">value</text>
<text transform="translate(674.62,1662.00) scale(0.9049,1)" font-size="67.5">(Limp</text>
<text transform="translate(844.81,1662.00) scale(0.9100,1)" font-size="67.5">frame</text>
<text transform="translate(1003.98,1662.00) scale(0.9330,1)" font-size="67.5">model)</text>
<text transform="translate(674.24,1729.00) scale(0.9982,1)" font-size="67.5">(New</text>
<text transform="translate(838.67,1729.00) scale(0.9362,1)" font-size="67.5">model)</text>
<g fill="none" stroke-linecap="round">
<path d="M694,1569.5 H828.7" stroke="#000" stroke-width="5"/>
<path d="M1259.9,1636.5 H1384.8" stroke="#000" stroke-width="4.8" stroke-dasharray="17.5 18.3"/>
<path d="M1057.8,1704 H1192.2" stroke="#ff0000" stroke-width="5.3"/>
</g>
</svg>
</body></html>
